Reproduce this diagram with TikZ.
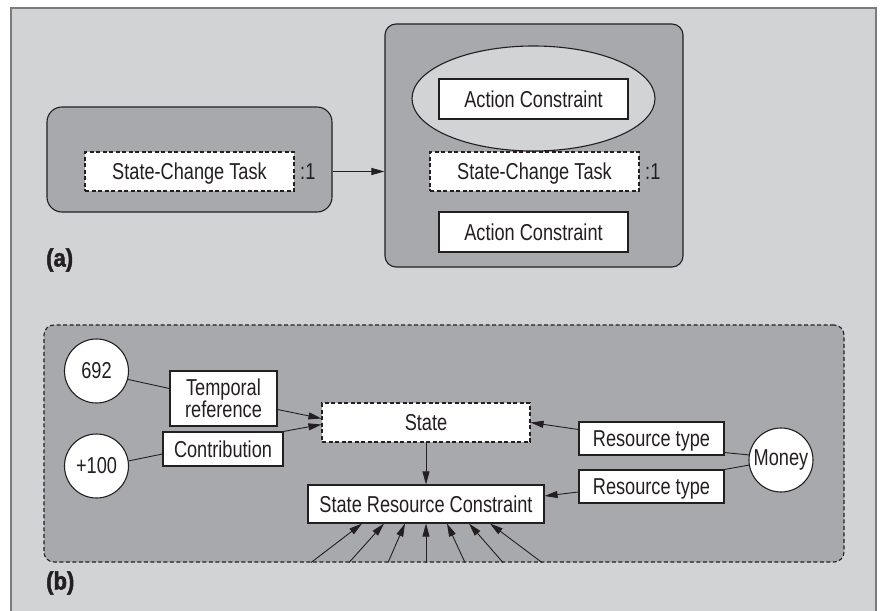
\documentclass[tikz,border=0pt]{standalone}
\usepackage{fontspec}
\setmainfont{Liberation Sans}[FakeStretch=0.79]
\newfontfamily\lblfont{Liberation Sans Bold}[FakeStretch=0.88,FakeBold=1.8]
\usetikzlibrary{arrows.meta,shapes.geometric}
\definecolor{bglight}{HTML}{D1D3D4}
\definecolor{bgmid}{HTML}{A7A9AC}
\definecolor{framegray}{HTML}{7A7B7E}
\definecolor{ink}{HTML}{231F20}
\begin{document}
\begin{tikzpicture}[x=1pt,y=-1pt,
  every node/.style={font=\fontsize{23}{21}\selectfont, text=ink},
  wbox/.style={draw=ink, fill=white, line width=1.1pt, inner sep=0pt, text height=16.5pt, text depth=0pt},
  dbox/.style={wbox, dash pattern=on 4pt off 2.5pt},
  graybox/.style={draw=ink, fill=bgmid, line width=1.1pt, rounded corners=#1, inner sep=0pt},
  circ/.style={circle, draw=ink, fill=white, line width=1.1pt, inner sep=0pt, minimum size=64pt},
  conn/.style={draw=ink, line width=0.9pt},
  arr/.style={conn, -{Triangle[length=13pt,width=7pt]}},
  lbl/.style={font=\lblfont\fontsize{25}{25}\selectfont, anchor=west, inner sep=0pt}
]
\useasboundingbox (0,0) rectangle (880,610);
\fill[white] (0,0) rectangle (880,610);
\draw[fill=bglight, draw=framegray, line width=1.6pt] (11,8) rectangle (876,620);

% ---- (a)
\node[graybox=15pt, minimum width=285pt, minimum height=105pt] (boxA) at (189.5,159.5) {};
\node[dbox, minimum width=209pt, minimum height=39pt] (sct1) at (189.5,171.5) {State-Change Task};
\node[inner sep=0pt, anchor=west, text height=16.5pt, text depth=0pt] (one1) at (300,171.5) {:1};

\node[graybox=11pt, minimum width=298pt, minimum height=243pt] (boxB) at (534,145.5) {};
\node[ellipse, draw=ink, fill=bglight, line width=1.1pt, minimum width=243pt, minimum height=105pt, inner sep=0pt] (ell) at (533.5,98.5) {};
\node[wbox, minimum width=189pt, minimum height=40pt] (ac1) at (533.5,99) {Action Constraint};
\node[dbox, minimum width=209pt, minimum height=39pt] (sct2) at (534.5,171.5) {State-Change Task};
\node[inner sep=0pt, anchor=west, text height=16.5pt, text depth=0pt] (one2) at (645,171.5) {:1};
\node[wbox, minimum width=189pt, minimum height=40pt] (ac2) at (533.5,232) {Action Constraint};

\draw[arr] (one1.east -| boxA.east) -- (one1.east -| boxB.west);

\node[lbl] (la) at (46,260) {(a)};

% ---- (b)
\node[graybox=10pt, dash pattern=on 4pt off 2.5pt, minimum width=800pt, minimum height=237pt] (boxBb) at (444,443.5) {};

\node[circ] (c692) at (96.5,371) {692};
\node[circ] (c100) at (96.5,466) {+100};
\node[wbox, align=center, minimum width=107pt, minimum height=55pt, text height=, text depth=] (tr) at (223.5,398.5) {Temporal\\reference};
\node[wbox, minimum width=120pt, minimum height=34pt] (contrib) at (223,449) {Contribution};
\node[dbox, minimum width=208pt, minimum height=39pt] (state) at (426,422.5) {State};
\node[wbox, minimum width=236pt, minimum height=38pt] (src) at (426,504) {State Resource Constraint};
\node[wbox, minimum width=145pt, minimum height=33pt] (rt1) at (651.5,438.5) {Resource type};
\node[wbox, minimum width=145pt, minimum height=33pt] (rt2) at (651.5,486.5) {Resource type};
\node[circ] (money) at (781,460) {Money};

\draw[conn] (c692.-15) -- ([yshift=10pt]tr.west);
\draw[conn] (c100.9) -- ([yshift=-5pt]contrib.west);
\draw[arr] ([yshift=-11pt]tr.east) -- ([yshift=4pt]state.west);
\draw[arr] (contrib.north east) -- ([yshift=-2pt]state.west);
\draw[arr] (state.south) -- (src.north);
\draw[arr] ([yshift=9pt]rt1.west) -- (state.east);
\draw[arr] ([yshift=-5.5pt]rt2.west) -- ([yshift=8pt]src.east);
\draw[conn] (money.171) -- ([yshift=3pt]rt1.south east);
\draw[conn] (money.-171) -- (rt2.north east);

\foreach \s/\e in {-115/-64, -77/-42, -38/-21, 0/0, 39/21, 77/43, 116/64}{
  \draw[arr] ([xshift=\s pt]src.south |- boxBb.south) -- ([xshift=\e pt]src.south);
}

\node[lbl] (lb) at (46,583) {(b)};
\end{tikzpicture}
\end{document}
